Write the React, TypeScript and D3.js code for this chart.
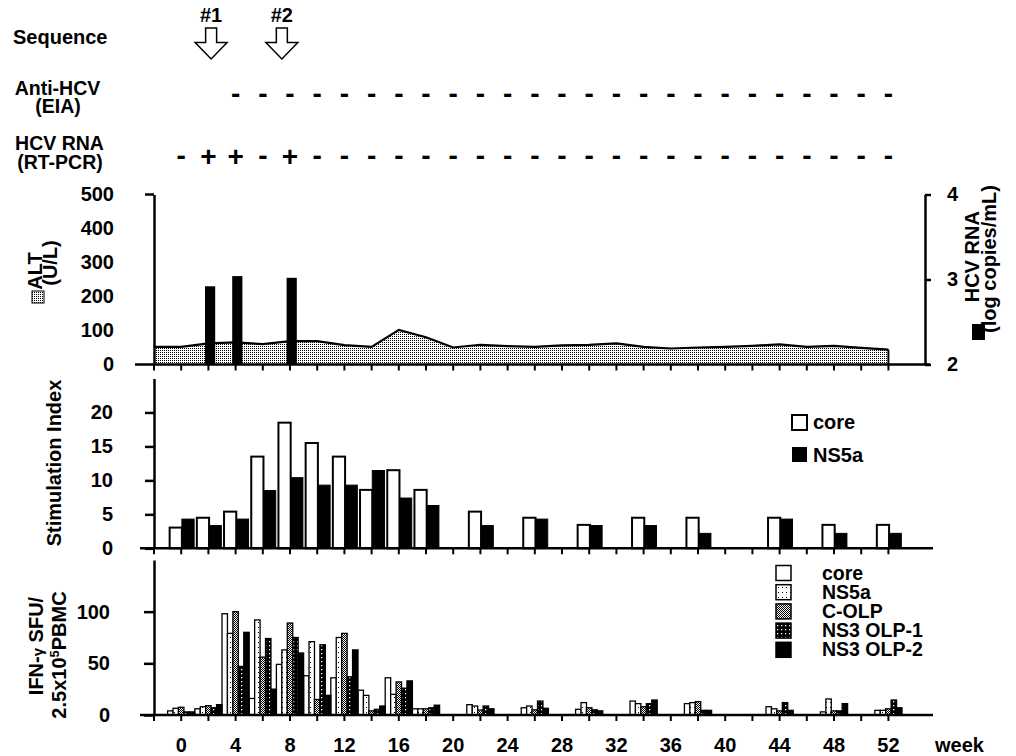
import { useRef, useEffect } from "react";
import * as d3 from "d3";

const FONT = "'Liberation Sans', Arial, Helvetica, sans-serif";

// ALT (U/L), sampled every two weeks
const altWeeks = [-2, 0, 2, 4, 6, 8, 10, 12, 14, 16, 18, 20, 22, 24, 26, 28, 30, 32, 34, 36, 38, 40, 42, 44, 46, 48, 50, 52];
const altValues = [52, 52, 62, 65, 60, 69, 69, 57, 52, 102, 80, 50, 58, 54, 52, 56, 58, 62, 52, 47, 50, 52, 55, 59, 52, 55, 49, 44];

// HCV RNA (log copies/mL)
const rnaWeeks = [2, 4, 8];
const rnaValues = [2.92, 3.04, 3.02];

// sequence arrows
const seqLabels = ["#1", "#2"];
const seqWeeks = [2.2, 7.4];

// Anti-HCV (EIA)
const eiaWeeks = [4, 6, 8, 10, 12, 14, 16, 18, 20, 22, 24, 26, 28, 30, 32, 34, 36, 38, 40, 42, 44, 46, 48, 50, 52];
const eiaResults = ["-", "-", "-", "-", "-", "-", "-", "-", "-", "-", "-", "-", "-", "-", "-", "-", "-", "-", "-", "-", "-", "-", "-", "-", "-"];

// HCV RNA (RT-PCR)
const pcrWeeks = [0, 2, 4, 6, 8, 10, 12, 14, 16, 18, 20, 22, 24, 26, 28, 30, 32, 34, 36, 38, 40, 42, 44, 46, 48, 50, 52];
const pcrResults = ["-", "+", "+", "-", "+", "-", "-", "-", "-", "-", "-", "-", "-", "-", "-", "-", "-", "-", "-", "-", "-", "-", "-", "-", "-", "-", "-"];

// stimulation index
const siWeeks = [0, 2, 4, 6, 8, 10, 12, 14, 16, 18, 22, 26, 30, 34, 38, 44, 48, 52];
const siCore = [3.05, 4.5, 5.4, 13.5, 18.5, 15.5, 13.5, 8.6, 11.5, 8.6, 5.4, 4.5, 3.45, 4.5, 4.5, 4.5, 3.45, 3.45];
const siNS5a = [4.3, 3.35, 4.3, 8.5, 10.4, 9.3, 9.3, 11.45, 7.4, 6.3, 3.35, 4.3, 3.35, 3.35, 2.2, 4.3, 2.2, 2.2];

// IFN-gamma ELISPOT
const sfuWeeks = [0, 2, 4, 6, 8, 10, 12, 14, 16, 18, 22, 26, 30, 34, 38, 44, 48, 52];
const sfuCore = [4, 6, 98, 16, 49, 38, 36, 24, 36, 6, 10, 7, 5.5, 13.5, 11, 8, 3, 4.5];
const sfuNS5a = [6.5, 8, 79, 92, 63, 71, 75, 19, 20, 6, 8.7, 8.7, 12, 11, 12, 6, 15.5, 4.5];
const sfuCOLP = [7.5, 9, 100, 56, 89, 15, 79, 4, 32, 6, 4.8, 5, 7, 8, 13, 4, 4, 6];
const sfuOLP1 = [3, 7, 47, 74, 75, 68, 37, 5.5, 26, 7, 8.7, 13.5, 5, 11, 4.5, 12, 4, 14.5];
const sfuOLP2 = [3, 10, 80, 25, 60, 19, 63, 8.7, 33, 9.5, 6, 6.5, 4, 14.5, 4.5, 4.5, 11, 7];
const sfuNames = ["core", "NS5a", "C-OLP", "NS3 OLP-1", "NS3 OLP-2"];
const sfuFills = ["#fff", "url(#ns5a)", "url(#colp)", "url(#olp1)", "#000"];

const weekTicks = [-2, 0, 2, 4, 6, 8, 10, 12, 14, 16, 18, 20, 22, 24, 26, 28, 30, 32, 34, 36, 38, 40, 42, 44, 46, 48, 50, 52];
const weekLabels = [0, 4, 8, 12, 16, 20, 24, 28, 32, 36, 40, 44, 48, 52];
const altTicks = [0, 100, 200, 300, 400, 500];
const rnaTicks = [2, 3, 4];
const siTicks = [0, 5, 10, 15, 20];
const sfuTicks = [0, 50, 100];

const App = () => {
  const svgRef = useRef<SVGSVGElement>(null);

  useEffect(() => {
    const svg = d3.select(svgRef.current);
    svg.selectAll("*").remove();
    svg.attr("font-family", FONT).attr("font-weight", "bold");

    const x = d3.scaleLinear().domain([-2, 52]).range([154, 888.4]);
    const yAlt = d3.scaleLinear().domain([0, 500]).range([364.5, 194.5]);
    const yRna = d3.scaleLinear().domain([2, 4]).range([364.5, 194.5]);
    const ySi = d3.scaleLinear().domain([0, 25]).range([548.3, 378.5]);
    const ySfu = d3.scaleLinear().domain([0, 150]).range([715, 560]);

    // fill patterns
    const defs = svg.append("defs");
    const addPattern = (id: string, w: number, h: number, bg: string, fg: string, dots: number[][], r: number) => {
      const p = defs.append("pattern").attr("id", id).attr("patternUnits", "userSpaceOnUse").attr("width", w).attr("height", h);
      p.append("rect").attr("width", w).attr("height", h).attr("fill", bg);
      dots.forEach(([cx, cy]) => p.append("rect").attr("x", cx).attr("y", cy).attr("width", r).attr("height", r).attr("fill", fg));
    };
    addPattern("stipple", 2, 2, "#fff", "#000", [[0, 0]], 1);
    addPattern("ns5a", 4, 5, "#fff", "#000", [[2, 2]], 1);
    addPattern("colp", 2, 2, "#fff", "#000", [[0, 0], [1, 1]], 1);
    addPattern("olp1", 4, 4, "#000", "#fff", [[1, 1]], 1.3);

    const txt = (sel: any, s: string, tx: number, ty: number, size = 20, anchor = "start") =>
      sel.append("text").attr("x", tx).attr("y", ty).attr("font-size", size).attr("text-anchor", anchor).attr("fill", "#000").text(s);

    // ---- header rows ----
    txt(svg, "Sequence", 13, 44);
    seqWeeks.forEach((w, i) => {
      const cx = x(w);
      txt(svg, seqLabels[i], cx, 22, 20, "middle");
      svg.append("path")
        .attr("d", `M${cx - 5.5},28 L${cx + 5.5},28 L${cx + 5.5},42.5 L${cx + 16},42.5 L${cx},59 L${cx - 16},42.5 L${cx - 5.5},42.5 Z`)
        .attr("fill", "#fff").attr("stroke", "#000").attr("stroke-width", 1.5);
    });
    txt(svg, "Anti-HCV", 57.5, 95, 19.5, "middle");
    txt(svg, "(EIA)", 58, 112.5, 19.5, "middle");
    txt(svg, "HCV RNA", 59.5, 150, 19.5, "middle");
    txt(svg, "(RT-PCR)", 60, 169, 19.5, "middle");

    eiaWeeks.forEach((w, i) => txt(svg, eiaResults[i], x(w), 102.5, 28, "middle"));
    pcrWeeks.forEach((w, i) => {
      if (pcrResults[i] === "+") txt(svg, "+", x(w), 166, 28, "middle");
      else txt(svg, "-", x(w), 164.5, 28, "middle");
    });

    const styleAxis = (g: any) => {
      g.attr("font-size", 20).attr("font-family", FONT).attr("font-weight", "bold");
      g.select(".domain").attr("stroke-width", 2.5).attr("stroke", "#000");
      g.selectAll(".tick line").attr("stroke-width", 2.5).attr("stroke", "#000");
      g.selectAll(".tick text").attr("fill", "#000");
    };

    const xAxis = (y0: number, xStart: number, xEnd: number) => {
      svg.append("line").attr("x1", xStart).attr("x2", xEnd).attr("y1", y0).attr("y2", y0)
        .attr("stroke", "#000").attr("stroke-width", 2.5);
      svg.append("g").selectAll("line").data(weekTicks).enter().append("line")
        .attr("x1", (d) => x(d)).attr("x2", (d) => x(d))
        .attr("y1", y0).attr("y2", y0 + 6)
        .attr("stroke", "#000").attr("stroke-width", 2);
    };

    // ---- top panel: ALT area + HCV RNA bars ----
    const area = d3.area<number>()
      .x((_, i) => x(altWeeks[i]))
      .y0(yAlt(0))
      .y1((d) => yAlt(d));
    svg.append("path").datum(altValues).attr("d", area).attr("fill", "url(#stipple)");
    const line = d3.line<number>().x((_, i) => x(altWeeks[i])).y((d) => yAlt(d));
    svg.append("path").datum(altValues).attr("d", line).attr("fill", "none").attr("stroke", "#000").attr("stroke-width", 2.2);
    const lastW = altWeeks[altWeeks.length - 1];
    svg.append("line").attr("x1", x(lastW)).attr("x2", x(lastW))
      .attr("y1", yAlt(altValues[altValues.length - 1])).attr("y2", yAlt(0))
      .attr("stroke", "#000").attr("stroke-width", 2);

    svg.append("g").selectAll("rect").data(rnaValues).enter().append("rect")
      .attr("x", (_, i) => x(rnaWeeks[i] - 0.25))
      .attr("width", (_, i) => x(rnaWeeks[i] + 0.5) - x(rnaWeeks[i] - 0.25))
      .attr("y", (d) => yRna(d))
      .attr("height", (d) => yRna(2) - yRna(d))
      .attr("fill", "#000");

    xAxis(yAlt(0), 135, 930);
    const gAlt = svg.append("g").attr("transform", `translate(${x(-2)},0)`)
      .call(d3.axisLeft(yAlt).tickValues(altTicks).tickSizeInner(0).tickSizeOuter(0).tickPadding(40));
    styleAxis(gAlt);
    svg.append("line").attr("x1", x(-2) - 9).attr("x2", x(-2)).attr("y1", yAlt(500)).attr("y2", yAlt(500))
      .attr("stroke", "#000").attr("stroke-width", 2.5);
    const gRna = svg.append("g").attr("transform", "translate(925,0)")
      .call(d3.axisRight(yRna).tickValues(rnaTicks).tickFormat(d3.format("d")).tickSizeInner(6).tickSizeOuter(0).tickPadding(16));
    styleAxis(gRna);

    svg.append("g").attr("transform", "translate(41.7,271) rotate(-90)").call((g: any) => txt(g, "ALT", 0, 0, 20, "middle"));
    svg.append("g").attr("transform", "translate(56.5,263) rotate(-90)").call((g: any) => txt(g, "(U/L)", 0, 0, 20, "middle"));
    svg.append("rect").attr("x", 32).attr("y", 291).attr("width", 12).attr("height", 12)
      .attr("fill", "url(#stipple)").attr("stroke", "#000").attr("stroke-width", 1);

    svg.append("g").attr("transform", "translate(979,256.7) rotate(-90)").call((g: any) => txt(g, "HCV RNA", 0, 0, 20, "middle"));
    svg.append("g").attr("transform", "translate(996,259) rotate(-90)").call((g: any) => txt(g, "(log copies/mL)", 0, 0, 20, "middle"));
    svg.append("rect").attr("x", 972).attr("y", 324).attr("width", 13).attr("height", 16).attr("fill", "#000");

    // ---- middle panel: stimulation index ----
    const gSi = svg.append("g");
    gSi.selectAll(".core").data(siCore).enter().append("rect").attr("class", "core")
      .attr("x", (_, i) => x(siWeeks[i] - 0.85))
      .attr("width", (_, i) => x(siWeeks[i] + 0.05) - x(siWeeks[i] - 0.85))
      .attr("y", (d) => ySi(d))
      .attr("height", (d) => ySi(0) - ySi(d))
      .attr("fill", "#fff").attr("stroke", "#000").attr("stroke-width", 2);
    gSi.selectAll(".ns5a").data(siNS5a).enter().append("rect").attr("class", "ns5a")
      .attr("x", (_, i) => x(siWeeks[i] + 0.05))
      .attr("width", (_, i) => x(siWeeks[i] + 0.95) - x(siWeeks[i] + 0.05))
      .attr("y", (d) => ySi(d))
      .attr("height", (d) => ySi(0) - ySi(d))
      .attr("fill", "#000").attr("stroke", "#000").attr("stroke-width", 1);

    xAxis(ySi(0), 140, 933);
    const gSiAxis = svg.append("g").attr("transform", `translate(${x(-2)},0)`)
      .call(d3.axisLeft(ySi).tickValues(siTicks).tickSizeInner(9).tickSizeOuter(0).tickPadding(32));
    styleAxis(gSiAxis);
    svg.append("g").attr("transform", "translate(61,463) rotate(-90)").call((g: any) => txt(g, "Stimulation Index", 0, 0, 20, "middle"));

    svg.append("rect").attr("x", 792).attr("y", 415).attr("width", 15).attr("height", 15)
      .attr("fill", "#fff").attr("stroke", "#000").attr("stroke-width", 2);
    txt(svg, "core", 813, 429);
    svg.append("rect").attr("x", 792).attr("y", 447).attr("width", 15).attr("height", 15).attr("fill", "#000");
    txt(svg, "NS5a", 813, 461.5);

    // ---- bottom panel: ELISPOT ----
    const sfuData = [sfuCore, sfuNS5a, sfuCOLP, sfuOLP1, sfuOLP2];
    const gSfu = svg.append("g");
    sfuData.forEach((vals, k) => {
      gSfu.append("g").selectAll("rect").data(vals).enter().append("rect")
        .attr("x", (_, i) => x(sfuWeeks[i] - 1 + 0.4 * k))
        .attr("width", (_, i) => x(sfuWeeks[i] - 0.6 + 0.4 * k) - x(sfuWeeks[i] - 1 + 0.4 * k))
        .attr("y", (d) => ySfu(d))
        .attr("height", (d) => ySfu(0) - ySfu(d))
        .attr("fill", sfuFills[k]).attr("stroke", "#000").attr("stroke-width", 1.3);
    });

    xAxis(ySfu(0), 140, 933);
    const gSfuAxis = svg.append("g").attr("transform", `translate(${x(-2)},0)`)
      .call(d3.axisLeft(ySfu).tickValues(sfuTicks).tickSizeInner(10).tickSizeOuter(0).tickPadding(34));
    styleAxis(gSfuAxis);

    const t1 = svg.append("text").attr("transform", "translate(43,646) rotate(-90)")
      .attr("font-size", 20).attr("text-anchor", "middle").attr("fill", "#000");
    t1.append("tspan").text("IFN-");
    t1.append("tspan").attr("font-size", 15).text("γ");
    t1.append("tspan").text(" SFU/");
    const t2 = svg.append("text").attr("transform", "translate(66,655) rotate(-90)")
      .attr("font-size", 20).attr("text-anchor", "middle").attr("fill", "#000");
    t2.append("tspan").text("2.5x10");
    t2.append("tspan").attr("font-size", 13).attr("dy", -7).text("5");
    t2.append("tspan").attr("dy", 7).text("PBMC");

    sfuNames.forEach((name, k) => {
      const cy = 573 + k * 19.2;
      svg.append("rect").attr("x", 776).attr("y", cy - 7.5).attr("width", 15).attr("height", 15)
        .attr("fill", sfuFills[k]).attr("stroke", "#000").attr("stroke-width", 1.5);
      txt(svg, name, 822, cy + 6.5, 19.5);
    });

    // week labels
    weekLabels.forEach((w) => txt(svg, String(w), x(w), 752, 20, "middle"));
    txt(svg, "week", 935, 752);
  }, []);

  return (
    <svg
      ref={svgRef}
      width={1016}
      height={756}
      style={{ position: "absolute", left: 0, top: 0, background: "#fff" }}
    ></svg>
  );
};

export default App;
